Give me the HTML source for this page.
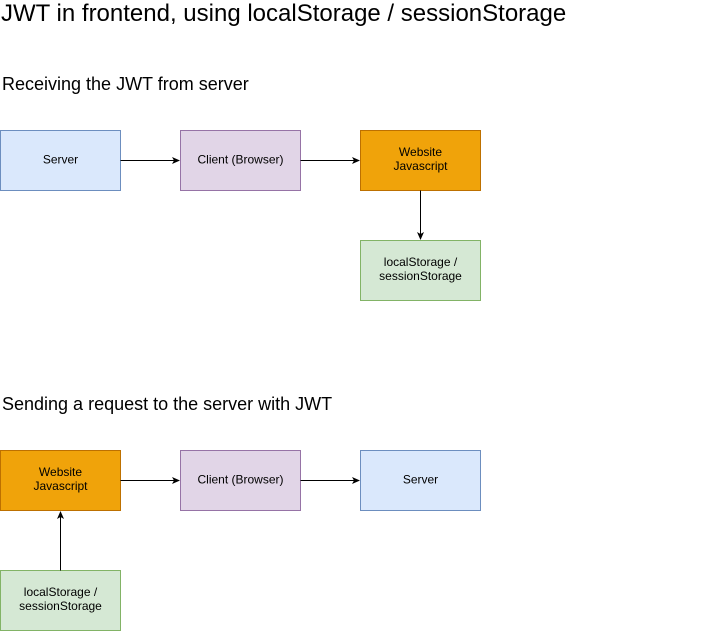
<!DOCTYPE html>
<html><head><meta charset="utf-8"><style>
html,body{margin:0;padding:0;background:#fff;}
svg{display:block;font-family:"Liberation Sans",Helvetica,Arial,sans-serif;}
</style></head><body>
<svg width="701" height="631" viewBox="0 0 701 631" xmlns="http://www.w3.org/2000/svg">
<defs><marker id="a" markerWidth="8" markerHeight="8" refX="7" refY="4" orient="auto" markerUnits="userSpaceOnUse"><path d="M0,0.5 L8,4 L0,7.5 L2,4 Z" fill="#000"/></marker></defs>
<text x="1" y="21" font-size="24" fill="#000">JWT in frontend, using localStorage / sessionStorage</text>
<text x="2" y="90" font-size="18" fill="#000">Receiving the JWT from server</text>
<text x="2" y="410" font-size="18" fill="#000">Sending a request to the server with JWT</text>
<g font-size="12" text-anchor="middle" fill="#000">
<rect x="0.5" y="130.5" width="120" height="60" fill="#dae8fc" stroke="#6c8ebf"/>
<text x="60.5" y="163.5">Server</text>
<rect x="180.5" y="130.5" width="120" height="60" fill="#e1d5e7" stroke="#9673a6"/>
<text x="240.5" y="163.5">Client (Browser)</text>
<rect x="360.5" y="130.5" width="120" height="60" fill="#f0a30a" stroke="#bd7000"/>
<text x="420.5" y="156">Website</text><text x="420.5" y="170">Javascript</text>
<rect x="360.5" y="240.5" width="120" height="60" fill="#d5e8d4" stroke="#82b366"/>
<text x="420.5" y="266">localStorage /</text><text x="420.5" y="280">sessionStorage</text>
<rect x="0.5" y="450.5" width="120" height="60" fill="#f0a30a" stroke="#bd7000"/>
<text x="60.5" y="476">Website</text><text x="60.5" y="490">Javascript</text>
<rect x="180.5" y="450.5" width="120" height="60" fill="#e1d5e7" stroke="#9673a6"/>
<text x="240.5" y="483.5">Client (Browser)</text>
<rect x="360.5" y="450.5" width="120" height="60" fill="#dae8fc" stroke="#6c8ebf"/>
<text x="420.5" y="483.5">Server</text>
<rect x="0.5" y="570.5" width="120" height="60" fill="#d5e8d4" stroke="#82b366"/>
<text x="60.5" y="596">localStorage /</text><text x="60.5" y="610">sessionStorage</text>
</g>
<g stroke="#000" stroke-width="1" fill="none">
<line x1="120.5" y1="160.5" x2="179" y2="160.5" marker-end="url(#a)"/>
<line x1="300.5" y1="160.5" x2="359" y2="160.5" marker-end="url(#a)"/>
<line x1="420.5" y1="190.5" x2="420.5" y2="239" marker-end="url(#a)"/>
<line x1="120.5" y1="480.5" x2="179" y2="480.5" marker-end="url(#a)"/>
<line x1="300.5" y1="480.5" x2="359" y2="480.5" marker-end="url(#a)"/>
<line x1="60.5" y1="570.5" x2="60.5" y2="512" marker-end="url(#a)"/>
</g>
</svg>
</body></html>
